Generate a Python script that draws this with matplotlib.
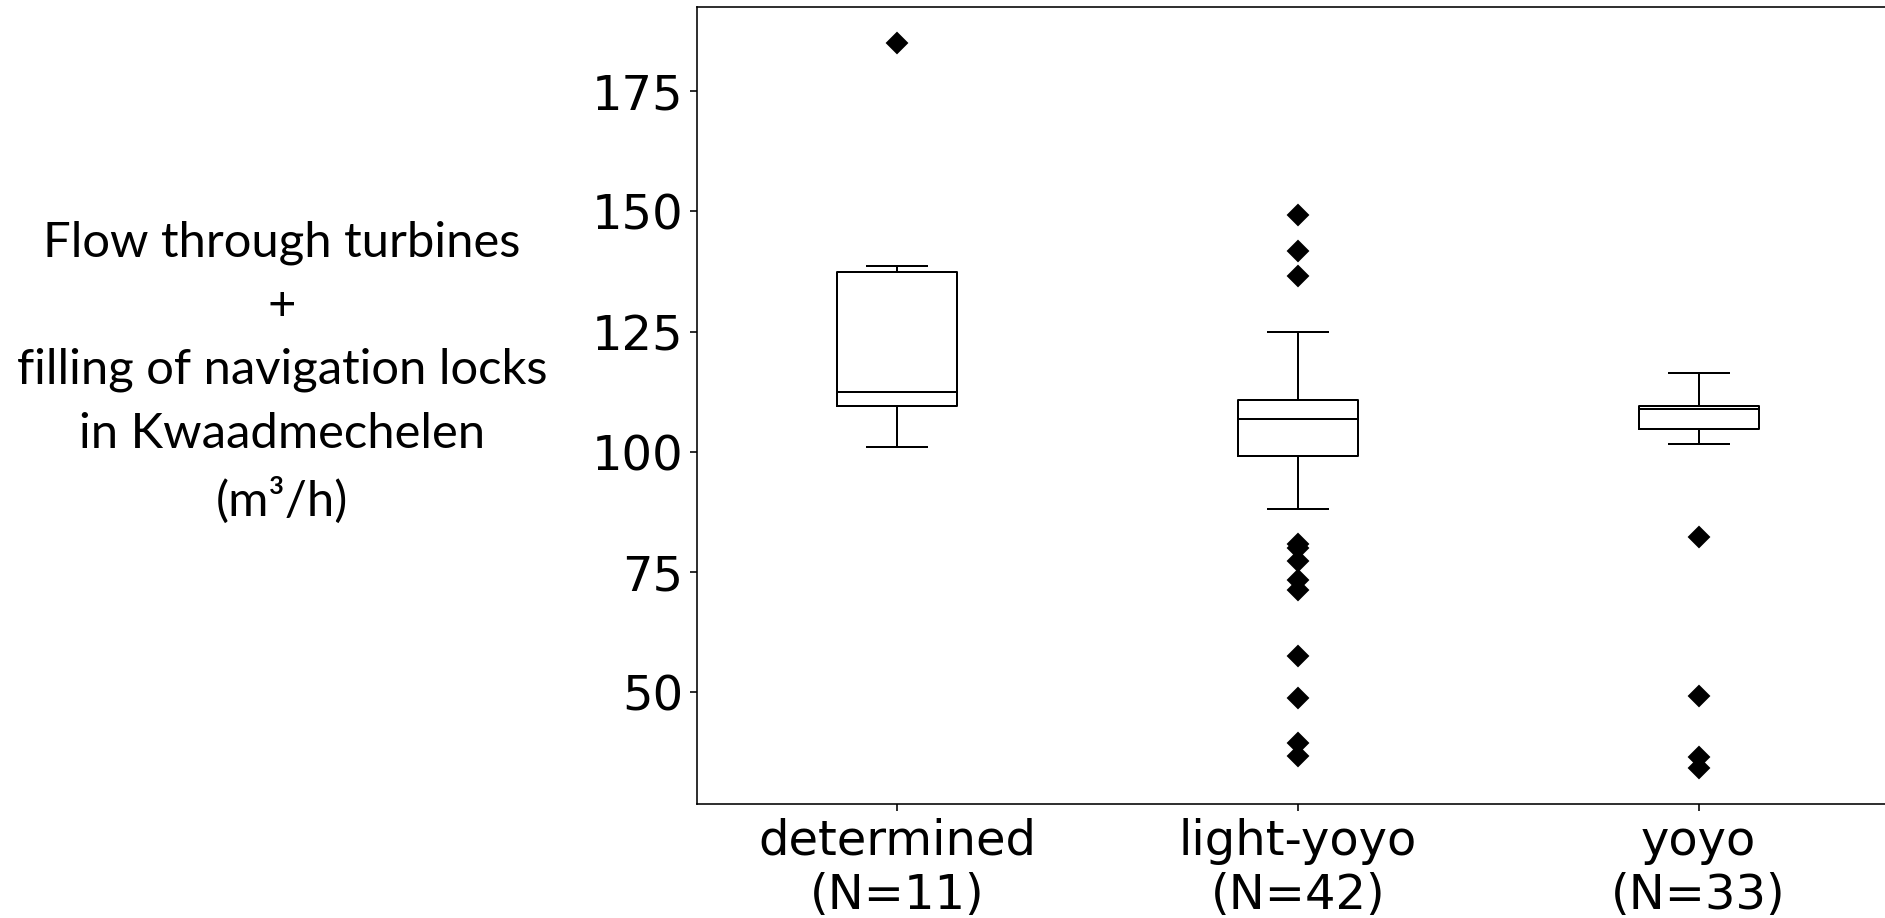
import matplotlib
matplotlib.use("Agg")
import matplotlib.pyplot as plt

categories = ["determined\n(N=11)", "light-yoyo\n(N=42)", "yoyo\n(N=33)"]
whisker_low = [101.0, 88.1, 101.7]
q1 = [109.5, 99.1, 104.7]
median = [112.5, 106.9, 109.0]
q3 = [137.5, 110.8, 109.6]
whisker_high = [138.7, 125.0, 116.5]
outliers = [
    [185.0],
    [149.2, 141.8, 136.5, 80.9, 80.0, 77.3, 73.3, 71.3, 57.5, 48.9, 39.4, 36.8],
    [82.3, 49.3, 36.6, 34.2],
]
yticks = [50, 75, 100, 125, 150, 175]
ylabel = "Flow through turbines\n+\nfilling of navigation locks\nin Kwaadmechelen\n(m³/h)"

fig = plt.figure(figsize=(1885 / 144, 918 / 144), dpi=144)
ax = fig.add_axes([0.3698, 0.1242, 0.6376, 0.8682])

stats = []
for i, lab in enumerate(categories):
    stats.append(dict(label=lab, whislo=whisker_low[i], q1=q1[i], med=median[i],
                      q3=q3[i], whishi=whisker_high[i], fliers=outliers[i]))

ax.bxp(stats, positions=[1, 2, 3], widths=0.3,
       boxprops=dict(color="black", linewidth=1.0),
       medianprops=dict(color="black", linewidth=1.0),
       whiskerprops=dict(color="black", linewidth=1.0),
       capprops=dict(color="black", linewidth=1.0),
       flierprops=dict(marker="D", markerfacecolor="black", markeredgecolor="black",
                       markersize=7, linestyle="none"))

ax.set_xlim(0.5, 3.5)
ax.set_ylim(26.8, 192.5)
ax.set_yticks(yticks)
ax.tick_params(axis="both", labelsize=24)
ax.set_xticklabels(categories, fontsize=24, linespacing=1.2)

fig.text(0.1496, 0.5945, ylabel, ha="center", va="center", multialignment="center",
         fontsize=24.5, family="Lato", linespacing=1.54)

fig.savefig("out.png", dpi=144)
